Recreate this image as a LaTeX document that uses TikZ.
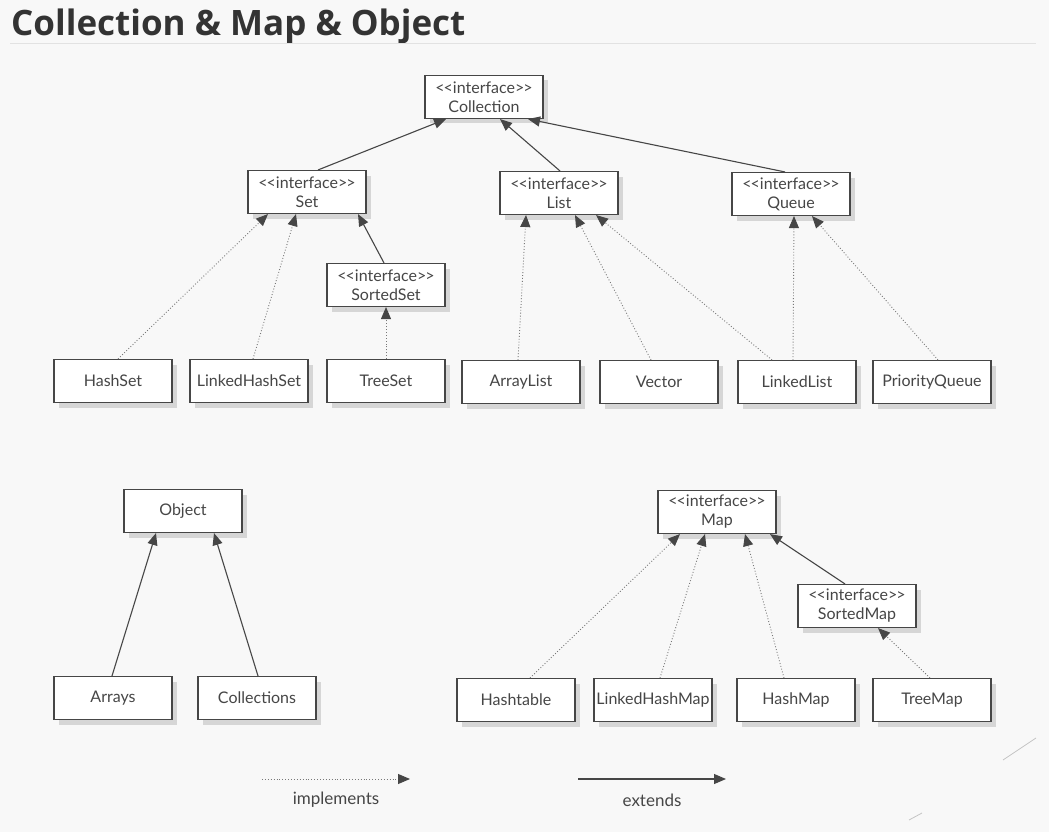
\documentclass[tikz,border=0pt]{standalone}
\usepackage{fontspec}
\setmainfont{Lato}[Ligatures=ResetAll]
\newfontfamily\titlefont{Open Sans}
\usetikzlibrary{arrows.meta,shadows}
\definecolor{bggray}{RGB}{248,248,248}
\definecolor{inkgray}{RGB}{70,70,70}
\definecolor{dotgray}{RGB}{120,120,120}
\definecolor{titlegray}{RGB}{51,51,51}
\definecolor{rulegray}{RGB}{226,226,226}
\definecolor{shadowgray}{RGB}{214,214,214}
\newcommand{\ifacetag}{<\kern-1pt<interface>\kern-1pt>}

\begin{document}
\begin{tikzpicture}[x=1pt,y=-1pt,
  box/.style={draw=inkgray,line width=1.1pt,fill=white,minimum width=118pt,minimum height=43pt,
    inner sep=2pt,align=center,text=inkgray,font=\fontsize{16}{19}\selectfont,
    drop shadow={shadow xshift=5pt,shadow yshift=-5pt,fill=shadowgray,opacity=1}},
  ext/.style={draw=inkgray,line width=1.1pt,-{Triangle[length=12pt,width=10pt,color=inkgray]}},
  impl/.style={draw=dotgray,line width=0.9pt,dotted,-{Triangle[length=12pt,width=10pt,color=inkgray]}},
  legtext/.style={text=inkgray,font=\fontsize{17}{19}\selectfont}]
\fill[bggray] (0,0) rectangle (1049,832);
\useasboundingbox (0,0) rectangle (1049,832);

% Title
\node[anchor=base west,inner sep=0pt,text=titlegray,font=\titlefont\bfseries\fontsize{35}{40}\selectfont] (title) at (11,36) {Collection \& Map \& Object};
\draw[rulegray,line width=1pt] (10,44) -- (1036,44);

% Interfaces
\node[box] (coll) at (484,97) {\ifacetag\\Collection};
\node[box] (set) at (307,192) {\ifacetag\\Set};
\node[box] (list) at (559,193) {\ifacetag\\List};
\node[box] (queue) at (791,194) {\ifacetag\\Queue};
\node[box] (sortedset) at (386,285) {\ifacetag\\SortedSet};

% Classes
\node[box] (hashset) at (113,381) {HashSet};
\node[box] (lhs) at (249,381) {LinkedHashSet};
\node[box] (treeset) at (386,381) {TreeSet};
\node[box] (arraylist) at (521,382) {ArrayList};
\node[box] (vector) at (659,382) {Vector};
\node[box] (linkedlist) at (797,382) {LinkedList};
\node[box] (pq) at (932,382) {PriorityQueue};

% Object
\node[box] (object) at (183,511) {Object};
\node[box] (arrays) at (113,698) {Arrays};
\node[box] (collections) at (257,698) {Collections};

% Map
\node[box] (map) at (717,512) {\ifacetag\\Map};
\node[box] (sortedmap) at (857,606) {\ifacetag\\SortedMap};
\node[box] (hashtable) at (516,700) {Hashtable};
\node[box] (lhm) at (653,700) {LinkedHashMap};
\node[box] (hashmap) at (796,700) {HashMap};
\node[box] (treemap) at (932,700) {TreeMap};

% extends
\draw[ext] ([xshift=11pt]set.north) -- ([xshift=-38pt]coll.south);
\draw[ext] ([xshift=1pt]list.north) -- ([xshift=16pt]coll.south);
\draw[ext] ([xshift=-6pt]queue.north) -- ([xshift=44pt]coll.south);
\draw[ext] ([xshift=-2pt]sortedset.north) -- ([xshift=51pt]set.south);
\draw[ext] ([xshift=-1pt]arrays.north) -- ([xshift=-27pt]object.south);
\draw[ext] ([xshift=1pt]collections.north) -- ([xshift=31pt]object.south);
\draw[ext] ([xshift=-12pt]sortedmap.north) -- ([xshift=53pt]map.south);

% implements
\draw[impl] ([xshift=5pt]hashset.north) -- ([xshift=-39pt]set.south);
\draw[impl] ([xshift=4pt]lhs.north) -- ([xshift=-11pt]set.south);
\draw[impl] (treeset.north) -- (sortedset.south);
\draw[impl] ([xshift=-3pt]arraylist.north) -- ([xshift=-33pt]list.south);
\draw[impl] ([xshift=-8pt]vector.north) -- ([xshift=16pt]list.south);
\draw[impl] ([xshift=-25pt]linkedlist.north) -- ([xshift=37pt]list.south);
\draw[impl] ([xshift=-4pt]linkedlist.north) -- ([xshift=3pt]queue.south);
\draw[impl] ([xshift=6pt]pq.north) -- ([xshift=21pt]queue.south);
\draw[impl] ([xshift=14pt]hashtable.north) -- ([xshift=-37pt]map.south);
\draw[impl] ([xshift=7pt]lhm.north) -- ([xshift=-12pt]map.south);
\draw[impl] ([xshift=-12pt]hashmap.north) -- ([xshift=28pt]map.south);
\draw[impl] ([xshift=-2pt]treemap.north) -- ([xshift=21pt]sortedmap.south);

% Legend
\coordinate (implA) at (262,779);
\coordinate (implB) at (410,779);
\coordinate (extA) at (578,779);
\coordinate (extB) at (726,779);
\draw[impl] (implA) -- (implB);
\draw[ext] (extA) -- (extB);
\node[legtext] (impllabel) at (336,800) {implements};
\node[legtext] (extlabel) at (652,800) {extends};

% scan marks
\draw[rulegray!70!gray,line width=0.8pt] (1003,760) -- (1036,738);
\draw[rulegray!70!gray,line width=0.8pt] (909,820) -- (922,813);
\end{tikzpicture}
\end{document}
